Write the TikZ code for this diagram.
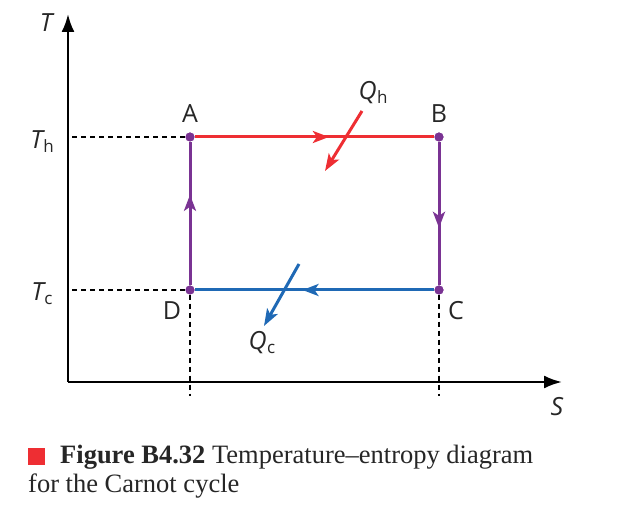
\documentclass[tikz,border=0pt]{standalone}
\usepackage{fontspec}
\setsansfont{Open Sans}
\newfontfamily\capfont{Liberation Serif}
\usetikzlibrary{arrows.meta,decorations.markings}
\definecolor{cyred}{HTML}{EE2E33}
\definecolor{cyblue}{HTML}{1F69B5}
\definecolor{cypurple}{HTML}{7A3393}
\newcommand{\sub}[1]{\kern0.5pt\raisebox{-4pt}{\upshape\fontsize{17}{17}\selectfont #1}}
\tikzset{
  axis/.style={line width=2.4pt, draw=black, -{Latex[length=18pt,width=13pt]}},
  guide/.style={line width=1.3pt, draw=black, dash pattern=on 5pt off 4pt},
  stroke/.style={line width=3pt},
  midarrow/.style={postaction={decorate}, decoration={markings,
      mark=at position #1 with {\arrow{Stealth[length=16pt,width=12pt,inset=4pt]}}}},
  heat/.style={line width=3pt, -{Stealth[length=17pt,width=12pt,inset=4pt]}},
  statept/.style={circle, fill=cypurple, inner sep=0pt, minimum size=9pt},
  lbl/.style={font=\sffamily\fontsize{25}{28}\selectfont, text=black!85, inner sep=1pt},
}
\begin{document}
\begin{tikzpicture}[x=1pt, y=1pt]
  \useasboundingbox (0,0) rectangle (622,528);
  % axes
  \coordinate (O) at (68,146);
  \coordinate (Ttip) at (68,514);
  \coordinate (Stip) at (562,146);
  \draw[axis] (O) -- (Ttip);
  \draw[axis] (O) -- (Stip);
  \node[lbl] (Tlab) at (46,505) {\itshape T};
  \node[lbl] (Slab) at (557,121) {\itshape S};
  % states of the cycle
  \node[statept] (A) at (190,391) {};
  \node[statept] (B) at (439,391) {};
  \node[statept] (C) at (439,238) {};
  \node[statept] (D) at (190,238) {};
  \node[lbl] (Alab) at (190,414) {A};
  \node[lbl] (Blab) at (439,414) {B};
  \node[lbl] (Clab) at (456,217) {C};
  \node[lbl] (Dlab) at (172,217) {D};
  % temperature levels
  \node[lbl] (Th) at (42,386) {\itshape T\sub{h}};
  \node[lbl] (Tc) at (42,234) {\itshape T\sub{c}};
  \coordinate (Tha) at (72,391);
  \coordinate (Tca) at (72,238);
  \coordinate (Dbot) at (190,132);
  \coordinate (Cbot) at (439,132);
  \draw[guide] (Tha) -- (A);
  \draw[guide] (Tca) -- (D);
  \draw[guide] (D) -- (Dbot);
  \draw[guide] (C) -- (Cbot);
  % processes
  \draw[stroke, cyred, midarrow=0.56] (A) -- (B);
  \draw[stroke, cypurple, midarrow=0.6] (B) -- (C);
  \draw[stroke, cyblue, midarrow=0.55] (C) -- (D);
  \draw[stroke, cypurple, midarrow=0.63] (D) -- (A);
  \node[statept] at (A) {};
  \node[statept] at (B) {};
  \node[statept] at (C) {};
  \node[statept] at (D) {};
  % heat flows
  \coordinate (Qh1) at (362,417);
  \coordinate (Qh2) at (325,357);
  \coordinate (Qc1) at (299,264);
  \coordinate (Qc2) at (264,202);
  \draw[heat, cyred] (Qh1) -- (Qh2);
  \draw[heat, cyblue] (Qc1) -- (Qc2);
  \node[lbl] (Qhlab) at (373,435) {\itshape Q\sub{h}};
  \node[lbl] (Qclab) at (262,185) {\itshape Q\sub{c}};
  % caption
  \fill[cyred] (28,63) rectangle (45,80);
  \node[anchor=base west, inner sep=0pt, font=\capfont\fontsize{26.5}{30}\selectfont, text=black!85] (cap1) at (60,64)
    {\textbf{Figure B4.32} Temperature–entropy diagram};
  \node[anchor=base west, inner sep=0pt, font=\capfont\fontsize{26.5}{30}\selectfont, text=black!85] (cap2) at (28,35)
    {for the Carnot cycle};
\end{tikzpicture}
\end{document}
